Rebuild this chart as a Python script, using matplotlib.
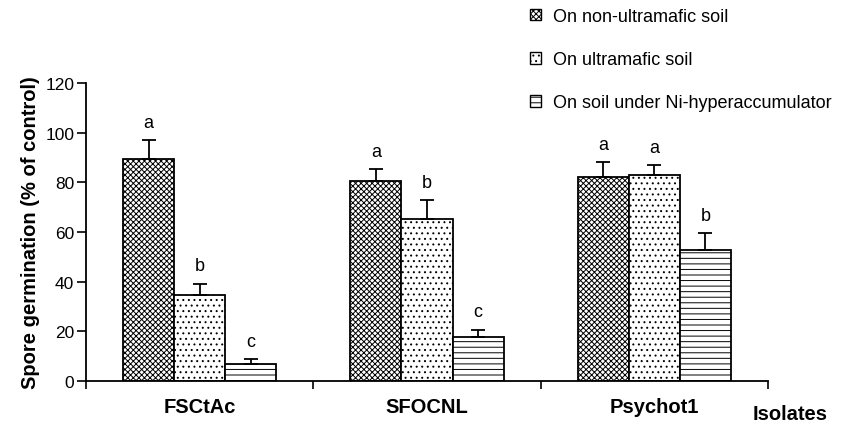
import matplotlib
matplotlib.use("Agg")
import matplotlib.pyplot as plt
import numpy as np
from matplotlib.patches import Patch

plt.rcParams['font.family'] = ['Liberation Sans', 'DejaVu Sans']
plt.rcParams['hatch.linewidth'] = 0.7

isolates = ["FSCtAc", "SFOCNL", "Psychot1"]
series = ["On non-ultramafic soil", "On ultramafic soil", "On soil under Ni-hyperaccumulator"]
non_ultramafic = [89.4, 80.7, 82.3]
non_ultramafic_err = [7.7, 4.7, 5.8]
ultramafic = [34.6, 65.2, 83.1]
ultramafic_err = [4.6, 7.8, 4.0]
ni_hyper = [6.8, 17.7, 52.8]
ni_hyper_err = [2.1, 3.0, 6.8]
letters_non = ["a", "a", "a"]
letters_ult = ["b", "b", "a"]
letters_ni = ["c", "c", "b"]
yticks = [0, 20, 40, 60, 80, 100, 120]

fig = plt.figure(figsize=(8.46, 4.27), dpi=100)
ax = fig.add_axes([86/846, 1-382/427, (768-86)/846, (382-84)/427])

x = np.arange(len(isolates))
w = 0.225
hatches = ['xxxxxx', '...', '---']
vals = [non_ultramafic, ultramafic, ni_hyper]
errs = [non_ultramafic_err, ultramafic_err, ni_hyper_err]
lets = [letters_non, letters_ult, letters_ni]
for i in range(3):
    pos = x + (i - 1) * w
    ax.bar(pos, vals[i], width=w, color='white', edgecolor='black', hatch=hatches[i],
           linewidth=1.3, zorder=2)
    ax.errorbar(pos, vals[i], yerr=[np.zeros(3), errs[i]], fmt='none', ecolor='black',
                elinewidth=1.3, capsize=5, capthick=1.3, zorder=3)
    for p, v, e, l in zip(pos, vals[i], errs[i], lets[i]):
        ax.annotate(l, (p, v + e), xytext=(0, 9.5), textcoords='offset points',
                    ha='center', va='baseline', fontsize=13)

ax.set_xlim(-0.5, 2.5)
ax.set_ylim(0, 120)
ax.set_yticks(yticks)
ax.tick_params(axis='y', direction='out', length=6.5, width=1.2, labelsize=12.5, pad=2)
ax.set_xticks([-0.5, 0.5, 1.5, 2.5])
ax.set_xticklabels([])
ax.tick_params(axis='x', direction='out', length=6, width=1.2)
for xi, name in zip(x, isolates):
    ax.text(xi, -0.085, name, transform=ax.get_xaxis_transform(), ha='center', va='center',
            fontsize=14.5, fontweight='bold')
ax.text(753/846, 1 - 415/427, "Isolates", transform=fig.transFigure, ha='left', va='center',
        fontsize=14.5, fontweight='bold')
ax.spines['top'].set_visible(False)
ax.spines['right'].set_visible(False)
ax.spines['left'].set_linewidth(1.3)
ax.spines['bottom'].set_linewidth(1.3)
ax.set_ylabel("Spore germination (% of control)", fontsize=14.5, fontweight='bold', labelpad=4)

handles = [Patch(facecolor='white', edgecolor='black', hatch=h, linewidth=1.0) for h in hatches]
fig.legend(handles, series, loc='upper left', bbox_to_anchor=(530/846, 1 - 9/427),
           frameon=False, fontsize=13, handlelength=0.6, handleheight=0.6,
           handletextpad=0.7, labelspacing=1.45, borderaxespad=0, borderpad=0)

fig.savefig("out.png", dpi=100)
